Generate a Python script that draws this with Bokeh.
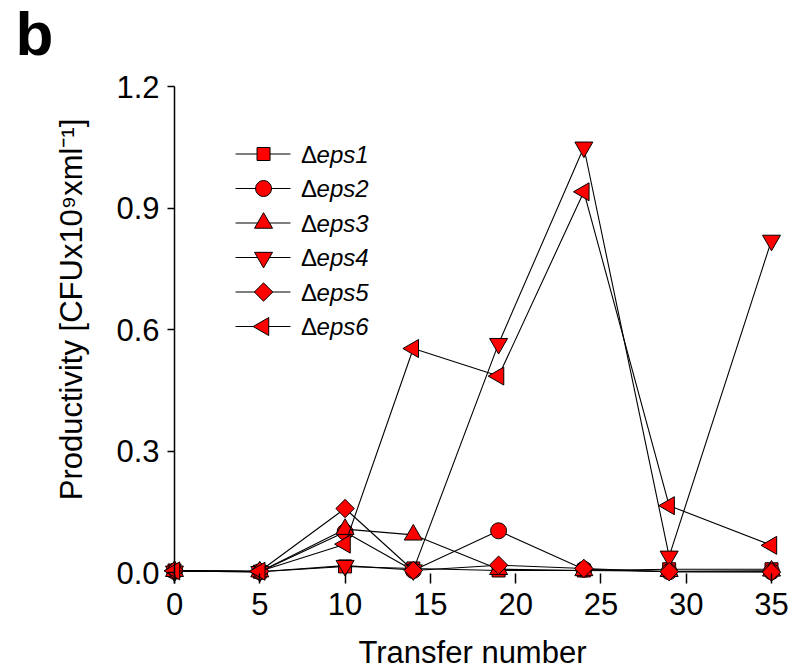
import math
from bokeh.plotting import figure
from bokeh.models import Range1d, FixedTicker, Label, NumeralTickFormatter
from bokeh.embed import file_html
from bokeh.resources import INLINE

# ---------------- data ----------------
transfers = [0, 5, 10, 14, 19, 24, 29, 35]
eps1 = [0.005, 0.002, 0.015, 0.010, 0.005, 0.005, 0.008, 0.008]
eps2 = [0.003, 0.002, 0.100, 0.005, 0.103, 0.008, 0.002, 0.002]
eps3 = [0.003, 0.002, 0.107, 0.093, 0.008, 0.005, 0.003, 0.004]
eps4 = [0.003, 0.002, 0.017, 0.006, 0.565, 1.050, 0.040, 0.820]
eps5 = [0.005, 0.003, 0.158, 0.005, 0.018, 0.010, 0.002, 0.001]
eps6 = [0.004, 0.003, 0.070, 0.553, 0.485, 0.940, 0.165, 0.067]

series_names = ["eps1", "eps2", "eps3", "eps4", "eps5", "eps6"]
series_values = [eps1, eps2, eps3, eps4, eps5, eps6]

x_ticks = [0, 5, 10, 15, 20, 25, 30, 35]
y_ticks = [0.0, 0.3, 0.6, 0.9, 1.2]

# ---------------- styles ----------------
marker_types = ["square", "circle", "triangle", "inverted_triangle", "square", "triangle"]
marker_angles = [0, 0, 0, 0, math.pi / 4, math.pi / 2]
marker_sizes = [13, 16, 18, 18, 13, 18]
FONT = "Liberation Sans"
RED = "#ff0000"

W, H = 794, 671
p = figure(
    frame_width=W, frame_height=H,
    x_range=Range1d(-10.201, 36.349), y_range=Range1d(-0.24444, 1.41235),
    output_backend="svg", toolbar_location=None,
    min_border=0, min_border_left=0, min_border_right=0,
    min_border_top=0, min_border_bottom=0,
    background_fill_color="white", border_fill_color="white",
)
p.outline_line_color = None
p.xgrid.visible = False
p.ygrid.visible = False

# y axis
yax = p.yaxis[0]
yax.fixed_location = 0
yax.bounds = (-0.026, 1.2)
yax.ticker = FixedTicker(ticks=y_ticks)
yax.formatter = NumeralTickFormatter(format="0.0")
yax.axis_line_width = 1.5
yax.axis_line_color = "black"
yax.major_tick_line_width = 1.5
yax.major_tick_in = 0
yax.major_tick_out = 7
yax.minor_tick_line_color = None
yax.major_label_standoff = 8
yax.major_label_text_font = FONT
yax.major_label_text_font_size = "31px"
yax.major_label_text_color = "black"

# x axis
xax = p.xaxis[0]
xax.fixed_location = -0.026
xax.bounds = (0, 35)
xax.ticker = FixedTicker(ticks=x_ticks)
xax.axis_line_color = None
xax.major_tick_line_width = 1.5
xax.major_tick_in = 10
xax.major_tick_out = 0
xax.minor_tick_line_color = None
xax.major_label_standoff = 10
xax.major_label_text_font = FONT
xax.major_label_text_font_size = "31px"
xax.major_label_text_color = "black"

# data series
for vals, mk, ang, sz in zip(series_values, marker_types, marker_angles, marker_sizes):
    p.line(transfers, vals, line_color="black", line_width=1.1)
    p.scatter(transfers, vals, marker=mk, angle=ang, size=sz,
              fill_color=RED, line_color="black", line_width=1)

# legend (manual, positioned in layout units)
leg_x_line = [3.58, 6.80]
leg_x_mark = 5.22
leg_x_delta = 7.42
leg_x_text = 8.33
leg_y_top = 1.0333
leg_step = 0.0852
for i, (name, mk, ang, sz) in enumerate(zip(series_names, marker_types, marker_angles, marker_sizes)):
    yy = leg_y_top - i * leg_step
    p.line(leg_x_line, [yy, yy], line_color="black", line_width=1.1)
    p.scatter([leg_x_mark], [yy], marker=mk, angle=ang, size=sz,
              fill_color=RED, line_color="black", line_width=1)
    p.add_layout(Label(x=leg_x_delta, y=yy, text="\u0394", text_font=FONT,
                       text_font_size="24px", text_baseline="middle", text_color="black"))
    p.add_layout(Label(x=leg_x_text, y=yy, text=name, text_font=FONT,
                       text_font_style="italic", text_font_size="24px",
                       text_baseline="middle", text_color="black"))

# titles
p.add_layout(Label(x=472, y=19, x_units="screen", y_units="screen",
                   text="Transfer number", text_font=FONT, text_font_size="31px",
                   text_align="center", text_baseline="alphabetic", text_color="black"))
p.add_layout(Label(x=71, y=362, x_units="screen", y_units="screen",
                   text="Productivity [CFUx10\u2079xml\u207b\u00b9]", text_font=FONT,
                   text_font_size="31px", angle=math.pi / 2,
                   text_align="center", text_baseline="middle", text_color="black"))
p.add_layout(Label(x=15, y=638, x_units="screen", y_units="screen",
                   text="b", text_font=FONT, text_font_size="62px", text_font_style="bold",
                   text_baseline="alphabetic", text_color="black"))

open("out.html", "w").write(file_html(p, INLINE))
